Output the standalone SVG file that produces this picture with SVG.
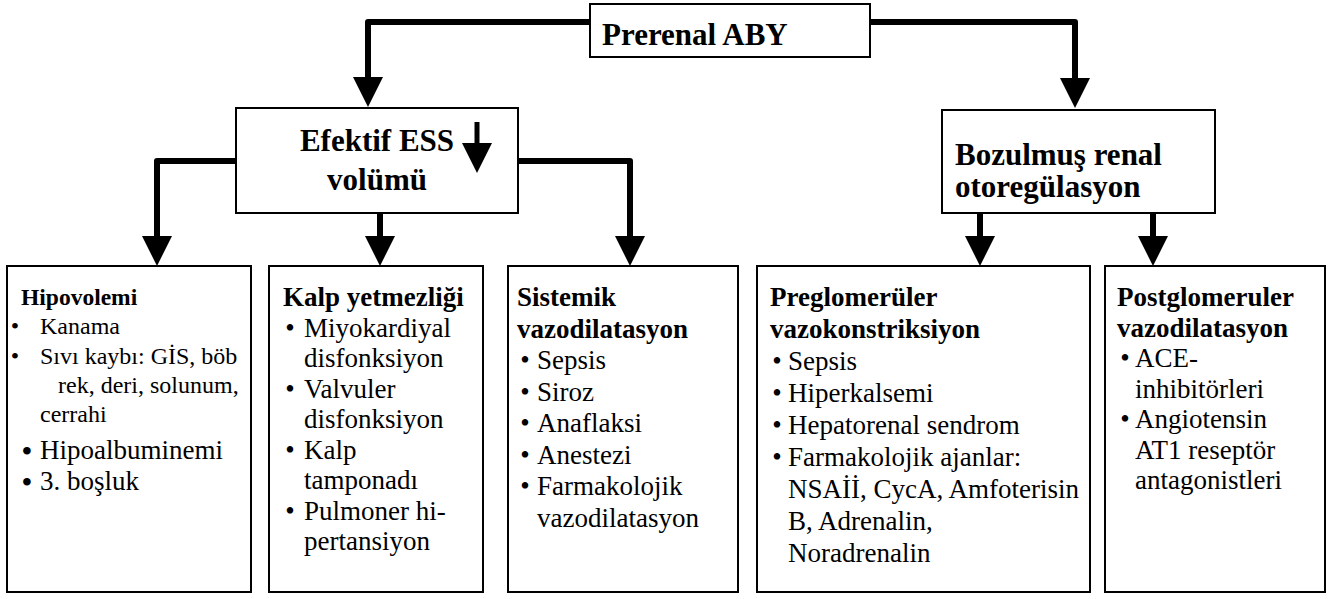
<svg xmlns="http://www.w3.org/2000/svg" width="1330" height="599" viewBox="0 0 1330 599">
<defs>
<marker id="ah" markerUnits="userSpaceOnUse" markerWidth="30" markerHeight="30" refX="15" refY="15" orient="auto">
<path d="M0,0 L30,15 L0,30 Z" fill="#000"/>
</marker>
<style>
text{font-family:"Liberation Serif","Times New Roman",serif;fill:#000}
.box{fill:#fff;stroke:#000;stroke-width:2}
.t{font-size:31px;font-weight:bold}
.h{font-size:27px;font-weight:bold}
.r{font-size:27px}
.s{font-size:24px}
.hs{font-size:23.5px;font-weight:bold}
.b{font-size:27px;text-anchor:middle}
.bs{font-size:24px;text-anchor:middle}
.bl{font-size:28px;font-weight:bold;text-anchor:middle}
.c{fill:none;stroke:#000;stroke-width:6;stroke-linejoin:round;marker-end:url(#ah)}
</style>
</defs>
<rect width="1330" height="599" fill="#fff"/>
<g id="connectors">
<path class="c" d="M590,22 H368 V92"/>
<path class="c" d="M870,22 H1075 V93"/>
<path class="c" d="M236,161 H157 V251"/>
<path class="c" d="M380,213 V251"/>
<path class="c" d="M518,161 H630 V251"/>
<path class="c" d="M980,213 V251"/>
<path class="c" d="M1153,213 V251"/>
</g>
<g id="prerenal">
<rect class="box" x="590" y="4" width="280" height="53"/>
<text class="t" x="602" y="45">Prerenal ABY</text>
</g>
<g id="efektif">
<rect class="box" x="236" y="108" width="282" height="105"/>
<text class="t" x="377" y="151" text-anchor="middle">Efektif ESS</text>
<text class="t" x="377" y="190" text-anchor="middle">volümü</text>
<path d="M477,122 V158" stroke="#000" stroke-width="5" fill="none" marker-end="url(#ah)"/>
</g>
<g id="bozulmus">
<rect class="box" x="942" y="110" width="273" height="103"/>
<text class="t" x="955" y="165">Bozulmuş renal</text>
<text class="t" x="955" y="197">otoregülasyon</text>
</g>
<g id="hipovolemi">
<rect class="box" x="7" y="266" width="244" height="326"/>
<text class="hs" x="21" y="305">Hipovolemi</text>
<text class="bs" x="15" y="334">•</text><text class="s" x="40" y="334">Kanama</text>
<text class="bs" x="15" y="364">•</text><text class="s" x="40" y="364">Sıvı kaybı: GİS, böb</text>
<text class="s" x="58" y="393">rek, deri, solunum,</text>
<text class="s" x="40" y="422">cerrahi</text>
<text class="bl" x="27" y="460">•</text><text class="r" x="40" y="459">Hipoalbuminemi</text>
<text class="bl" x="27" y="491">•</text><text class="r" x="40" y="490">3. boşluk</text>
</g>
<g id="kalp">
<rect class="box" x="269" y="266" width="214" height="326"/>
<text class="h" x="283" y="306">Kalp yetmezliği</text>
<text class="b" x="290" y="336.5">•</text><text class="r" x="304" y="336.5">Miyokardiyal</text>
<text class="r" x="304" y="367">disfonksiyon</text>
<text class="b" x="290" y="397.5">•</text><text class="r" x="304" y="397.5">Valvuler</text>
<text class="r" x="304" y="428">disfonksiyon</text>
<text class="b" x="290" y="458.5">•</text><text class="r" x="304" y="458.5">Kalp</text>
<text class="r" x="304" y="489">tamponadı</text>
<text class="b" x="290" y="519.5">•</text><text class="r" x="304" y="519.5">Pulmoner hi-</text>
<text class="r" x="304" y="550">pertansiyon</text>
</g>
<g id="sistemik">
<rect class="box" x="508" y="266" width="230" height="326"/>
<text class="h" x="517" y="306">Sistemik</text>
<text class="h" x="517" y="337.5">vazodilatasyon</text>
<text class="b" x="525" y="369">•</text><text class="r" x="537" y="369">Sepsis</text>
<text class="b" x="525" y="400.5">•</text><text class="r" x="537" y="400.5">Siroz</text>
<text class="b" x="525" y="432">•</text><text class="r" x="537" y="432">Anaflaksi</text>
<text class="b" x="525" y="463.5">•</text><text class="r" x="537" y="463.5">Anestezi</text>
<text class="b" x="525" y="495">•</text><text class="r" x="537" y="495">Farmakolojik</text>
<text class="r" x="537" y="526.5">vazodilatasyon</text>
</g>
<g id="preglomeruler">
<rect class="box" x="757" y="266" width="333" height="326"/>
<text class="h" x="770" y="306">Preglomerüler</text>
<text class="h" x="770" y="338">vazokonstriksiyon</text>
<text class="b" x="777" y="370">•</text><text class="r" x="788" y="370">Sepsis</text>
<text class="b" x="777" y="402">•</text><text class="r" x="788" y="402">Hiperkalsemi</text>
<text class="b" x="777" y="434">•</text><text class="r" x="788" y="434">Hepatorenal sendrom</text>
<text class="b" x="777" y="466">•</text><text class="r" x="788" y="466">Farmakolojik ajanlar:</text>
<text class="r" x="788" y="498">NSAİİ, CycA, Amfoterisin</text>
<text class="r" x="788" y="530">B, Adrenalin,</text>
<text class="r" x="788" y="562">Noradrenalin</text>
</g>
<g id="postglomeruler">
<rect class="box" x="1105" y="266" width="220" height="326"/>
<text class="h" x="1117" y="306">Postglomeruler</text>
<text class="h" x="1117" y="336.5">vazodilatasyon</text>
<text class="b" x="1125" y="367">•</text><text class="r" x="1135" y="367">ACE-</text>
<text class="r" x="1135" y="397.5">inhibitörleri</text>
<text class="b" x="1125" y="428">•</text><text class="r" x="1135" y="428">Angiotensin</text>
<text class="r" x="1135" y="458.5">AT1 reseptör</text>
<text class="r" x="1135" y="489">antagonistleri</text>
</g>
</svg>
